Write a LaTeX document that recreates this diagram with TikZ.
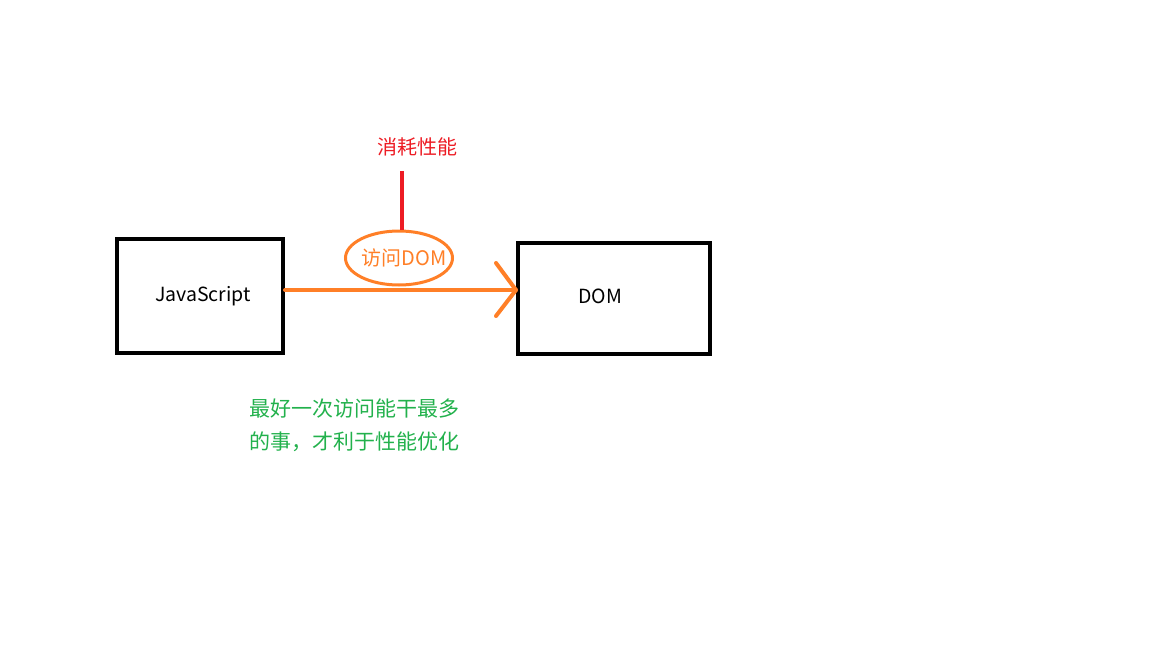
\documentclass[tikz,border=0pt]{standalone}
\usepackage{fontspec}
\setmainfont{Noto Sans CJK SC}
\usetikzlibrary{shapes.geometric,calc}
\definecolor{pgreen}{RGB}{34,177,76}
\definecolor{pred}{RGB}{237,28,36}
\definecolor{porange}{RGB}{255,127,39}
\begin{document}
\begin{tikzpicture}[x=1pt,y=-1pt,
  lbl/.style={inner sep=0pt,font=\fontsize{19.5}{22}\selectfont}]
\useasboundingbox (0,0) rectangle (1152,648);
\node[draw=black,line width=4pt,minimum width=166pt,minimum height=114pt,inner sep=0pt] (js) at (200,296) {};
\node[lbl] (jst) at (203,296) {JavaScript};
\node[draw=black,line width=4pt,minimum width=192pt,minimum height=111pt,inner sep=0pt] (dom) at (614,298.5) {};
\node[lbl] (domt) at (600,296) {DOM};
\coordinate (a0) at (js.east |- 0,290);
\coordinate (a1) at (dom.west |- 0,290);
\draw[porange,line width=4pt,line cap=round] (a0) -- (a1);
\draw[porange,line width=4pt,line cap=round,line join=round] ($(a1)+(-20,-27)$) -- (a1) -- ($(a1)+(-20,26)$);
\node[draw=porange,line width=3pt,ellipse,minimum width=107pt,minimum height=54pt,inner sep=0pt] (acc) at (399,258) {};
\node[text=porange,inner sep=0pt,font=\fontsize{20}{22}\selectfont] (acct) at (404,258) {访问DOM};
\coordinate (r0) at (402,171);
\draw[pred,line width=4pt] (r0) -- (acc.north -| r0);
\node[text=pred,inner sep=0pt,font=\fontsize{20}{22}\selectfont] (cost) at (417,147) {消耗性能};
\node[text=pgreen,inner sep=0pt,anchor=west,font=\fontsize{21}{22}\selectfont] (g1) at (249,409) {最好一次访问能干最多};
\node[text=pgreen,inner sep=0pt,anchor=west,font=\fontsize{21}{22}\selectfont] (g2) at (249,442) {的事，才利于性能优化};
\end{tikzpicture}
\end{document}
